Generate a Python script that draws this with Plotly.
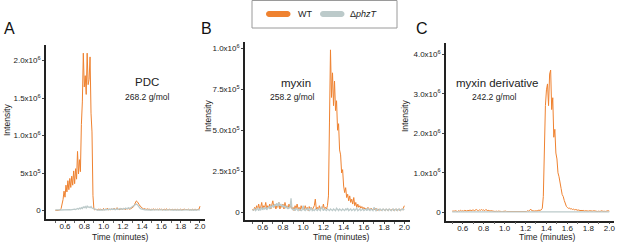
import plotly.graph_objects as go

# ---------------- data ----------------
time_min = [
    0.50, 0.51, 0.52, 0.53, 0.54, 0.55, 0.56, 0.57, 0.58, 0.59,
    0.60, 0.61, 0.62, 0.63, 0.64, 0.65, 0.66, 0.67, 0.68, 0.69,
    0.70, 0.71, 0.72, 0.73, 0.74, 0.75, 0.76, 0.77, 0.78, 0.79,
    0.80, 0.81, 0.82, 0.83, 0.84, 0.85, 0.86, 0.87, 0.88, 0.89,
    0.90, 0.91, 0.92, 0.93, 0.94, 0.95, 0.96, 0.97, 0.98, 0.99,
    1.00, 1.01, 1.02, 1.03, 1.04, 1.05, 1.06, 1.07, 1.08, 1.09,
    1.10, 1.11, 1.12, 1.13, 1.14, 1.15, 1.16, 1.17, 1.18, 1.19,
    1.20, 1.21, 1.22, 1.23, 1.24, 1.25, 1.26, 1.27, 1.28, 1.29,
    1.30, 1.31, 1.32, 1.33, 1.34, 1.35, 1.36, 1.37, 1.38, 1.39,
    1.40, 1.41, 1.42, 1.43, 1.44, 1.45, 1.46, 1.47, 1.48, 1.49,
    1.50, 1.51, 1.52, 1.53, 1.54, 1.55, 1.56, 1.57, 1.58, 1.59,
    1.60, 1.61, 1.62, 1.63, 1.64, 1.65, 1.66, 1.67, 1.68, 1.69,
    1.70, 1.71, 1.72, 1.73, 1.74, 1.75, 1.76, 1.77, 1.78, 1.79,
    1.80, 1.81, 1.82, 1.83, 1.84, 1.85, 1.86, 1.87, 1.88, 1.89,
    1.90, 1.91, 1.92, 1.93, 1.94, 1.95, 1.96, 1.97, 1.98, 1.99,
    2.00,
]

# Panel A, PDC (intensity in units of 1e5)
pdc_wt_e5 = [
    0.05, 0.03, 0.06, 0.04, 0.08, 0.10, 0.30, 0.80, 1.50, 2.60,
    1.80, 3.40, 2.50, 4.00, 2.80, 4.30, 3.10, 4.60, 3.40, 5.30,
    3.60, 5.60, 4.20, 7.90, 4.90, 6.80, 5.20, 11.5, 14.5, 21.0,
    16.5, 18.0, 15.5, 21.0, 16.8, 17.5, 20.5, 13.0, 10.5, 2.00,
    0.20, 0.10, 0.20, 0.15, 0.10, 0.25, 0.10, 0.20, 0.15, 0.10,
    0.30, 0.10, 0.20, 0.15, 0.35, 0.10, 0.20, 0.10, 0.25, 0.15,
    0.20, 0.35, 0.10, 0.20, 0.40, 0.15, 0.20, 0.10, 0.30, 0.20,
    0.15, 0.30, 0.20, 0.15, 0.35, 0.20, 0.30, 0.20, 0.25, 0.30,
    0.35, 0.50, 0.80, 1.10, 1.30, 1.20, 1.05, 0.80, 0.60, 0.45,
    0.30, 0.25, 0.20, 0.30, 0.15, 0.20, 0.25, 0.15, 0.20, 0.10,
    0.20, 0.15, 0.25, 0.10, 0.20, 0.15, 0.20, 0.10, 0.25, 0.15,
    0.20, 0.10, 0.15, 0.20, 0.10, 0.25, 0.15, 0.10, 0.20, 0.15,
    0.10, 0.20, 0.15, 0.10, 0.20, 0.15, 0.10, 0.20, 0.10, 0.15,
    0.20, 0.10, 0.15, 0.10, 0.20, 0.15, 0.10, 0.15, 0.20, 0.10,
    0.15, 0.10, 0.20, 0.10, 0.15, 0.20, 0.10, 0.15, 0.10, 0.20,
    0.60,
]
pdc_ko_e5 = [
    0.10, 0.12, 0.08, 0.10, 0.11, 0.09, 0.10, 0.12, 0.10, 0.08,
    0.10, 0.12, 0.15, 0.10, 0.12, 0.14, 0.10, 0.15, 0.12, 0.18,
    0.20, 0.15, 0.25, 0.30, 0.20, 0.35, 0.25, 0.40, 0.30, 0.50,
    0.40, 0.55, 0.35, 0.60, 0.45, 0.50, 0.40, 0.55, 0.35, 0.30,
    0.15, 0.10, 0.12, 0.10, 0.08, 0.12, 0.10, 0.11, 0.09, 0.10,
    0.12, 0.10, 0.15, 0.10, 0.12, 0.18, 0.10, 0.14, 0.20, 0.12,
    0.15, 0.22, 0.12, 0.18, 0.25, 0.15, 0.20, 0.28, 0.18, 0.25,
    0.20, 0.30, 0.22, 0.35, 0.25, 0.30, 0.38, 0.30, 0.40, 0.45,
    0.50, 0.60, 0.70, 0.85, 0.90, 0.80, 0.60, 0.45, 0.30, 0.25,
    0.20, 0.15, 0.12, 0.10, 0.12, 0.10, 0.08, 0.10, 0.12, 0.10,
    0.09, 0.11, 0.10, 0.08, 0.12, 0.10, 0.09, 0.11, 0.10, 0.08,
    0.10, 0.12, 0.09, 0.10, 0.11, 0.08, 0.10, 0.12, 0.09, 0.10,
    0.11, 0.09, 0.10, 0.12, 0.08, 0.10, 0.11, 0.09, 0.10, 0.12,
    0.10, 0.08, 0.11, 0.10, 0.09, 0.12, 0.10, 0.08, 0.11, 0.10,
    0.09, 0.12, 0.10, 0.08, 0.11, 0.10, 0.09, 0.12, 0.10, 0.11,
    0.10,
]

# Panel B, myxin (intensity in units of 1e5)
myxin_wt_e5 = [
    0.20, 0.10, 0.30, 0.15, 0.40, 0.20, 0.50, 0.20, 0.30, 0.60,
    0.20, 0.40, 0.30, 0.60, 0.20, 0.40, 0.30, 0.50, 0.20, 0.40,
    0.70, 0.30, 0.50, 0.20, 0.40, 0.30, 0.60, 0.20, 0.40, 0.30,
    0.50, 0.20, 0.60, 0.30, 0.40, 0.20, 0.50, 0.30, 0.40, 0.20,
    0.30, 0.10, 0.40, 0.20, 0.50, 0.20, 0.30, 0.10, 0.40, 0.20,
    0.30, 0.15, 0.40, 0.20, 0.30, 0.10, 0.35, 0.20, 0.30, 0.15,
    0.30, 0.40, 0.80, 0.20, 0.30, 0.15, 0.40, 0.20, 0.30, 0.20,
    0.50, 0.20, 0.30, 0.20, 0.40, 1.00, 5.50, 9.90, 7.00, 8.50,
    6.50, 8.00, 6.20, 6.80, 5.00, 5.40, 3.80, 3.50, 2.40, 2.60,
    1.60, 1.20, 1.50, 0.90, 1.10, 0.70, 1.00, 0.60, 0.80, 0.50,
    0.90, 0.40, 0.60, 0.30, 0.50, 0.30, 0.40, 0.25, 0.35, 0.20,
    0.30, 0.20, 0.25, 0.15, 0.30, 0.20, 0.15, 0.25, 0.20, 0.15,
    0.20, 0.15, 0.25, 0.10, 0.20, 0.15, 0.20, 0.10, 0.15, 0.20,
    0.15, 0.10, 0.20, 0.15, 0.10, 0.20, 0.15, 0.10, 0.20, 0.15,
    0.10, 0.20, 0.15, 0.10, 0.20, 0.15, 0.10, 0.20, 0.15, 0.25,
    0.40,
]
myxin_ko_e5 = [
    0.10, 0.15, 0.20, 0.10, 0.15, 0.25, 0.10, 0.20, 0.15, 0.30,
    0.15, 0.25, 0.20, 0.30, 0.15, 0.25, 0.35, 0.20, 0.40, 0.30,
    0.45, 0.30, 0.50, 0.40, 0.55, 0.35, 0.60, 0.40, 0.50, 0.35,
    0.45, 0.30, 0.40, 0.25, 0.35, 0.20, 0.30, 0.25, 0.85, 0.20,
    0.15, 0.20, 0.10, 0.25, 0.15, 0.10, 0.20, 0.15, 0.10, 0.15,
    0.40, 0.15, 0.10, 0.20, 0.15, 0.25, 0.10, 0.15, 0.30, 0.10,
    0.15, 0.10, 0.20, 0.15, 0.10, 0.20, 0.15, 0.10, 0.35, 0.15,
    0.10, 0.20, 0.15, 0.10, 0.20, 0.15, 0.10, 0.20, 0.15, 0.10,
    0.20, 0.15, 0.10, 0.25, 0.15, 0.10, 0.20, 0.15, 0.10, 0.20,
    0.15, 0.10, 0.20, 0.15, 0.25, 0.10, 0.15, 0.20, 0.10, 0.15,
    0.20, 0.10, 0.15, 0.25, 0.10, 0.15, 0.20, 0.10, 0.15, 0.20,
    0.10, 0.15, 0.20, 0.10, 0.25, 0.15, 0.10, 0.20, 0.15, 0.10,
    0.30, 0.15, 0.10, 0.20, 0.15, 0.10, 0.20, 0.15, 0.10, 0.20,
    0.15, 0.10, 0.20, 0.15, 0.10, 0.20, 0.15, 0.10, 0.15, 0.20,
    0.10, 0.15, 0.20, 0.10, 0.15, 0.20, 0.10, 0.15, 0.20, 0.15,
    0.20,
]

# Panel C, myxin derivative (intensity in units of 1e6)
deriv_wt_e6 = [
    0.03, 0.02, 0.03, 0.04, 0.03, 0.02, 0.04, 0.03, 0.05, 0.03,
    0.04, 0.03, 0.05, 0.04, 0.03, 0.05, 0.04, 0.06, 0.04, 0.05,
    0.06, 0.04, 0.05, 0.07, 0.05, 0.04, 0.06, 0.05, 0.07, 0.05,
    0.06, 0.04, 0.07, 0.05, 0.04, 0.05, 0.03, 0.04, 0.03, 0.02,
    0.03, 0.02, 0.03, 0.02, 0.03, 0.02, 0.03, 0.02, 0.02, 0.03,
    0.02, 0.03, 0.02, 0.02, 0.03, 0.02, 0.03, 0.02, 0.02, 0.03,
    0.02, 0.03, 0.02, 0.03, 0.02, 0.03, 0.02, 0.03, 0.02, 0.03,
    0.03, 0.02, 0.04, 0.03, 0.05, 0.08, 0.04, 0.03, 0.04, 0.03,
    0.04, 0.03, 0.05, 0.04, 0.05, 0.06, 0.10, 0.40, 2.00, 2.70,
    3.10, 3.25, 2.70, 3.50, 3.60, 2.60, 2.90, 1.90, 2.10, 1.50,
    1.35, 1.00, 0.90, 0.70, 0.60, 0.45, 0.40, 0.30, 0.20, 0.15,
    0.12, 0.10, 0.11, 0.08, 0.09, 0.07, 0.08, 0.06, 0.07, 0.05,
    0.05, 0.06, 0.04, 0.05, 0.04, 0.05, 0.03, 0.04, 0.03, 0.04,
    0.03, 0.04, 0.03, 0.02, 0.03, 0.04, 0.03, 0.02, 0.03, 0.02,
    0.03, 0.02, 0.03, 0.04, 0.02, 0.03, 0.02, 0.03, 0.02, 0.04,
    0.03,
]
deriv_ko_e6 = [
    0.01, 0.012, 0.01, 0.011, 0.01, 0.012, 0.01, 0.011, 0.01, 0.012,
    0.01, 0.011, 0.01, 0.012, 0.01, 0.011, 0.01, 0.012, 0.01, 0.011,
    0.01, 0.012, 0.01, 0.011, 0.01, 0.012, 0.01, 0.011, 0.01, 0.012,
    0.01, 0.011, 0.01, 0.012, 0.01, 0.011, 0.01, 0.012, 0.01, 0.011,
    0.01, 0.012, 0.01, 0.011, 0.01, 0.012, 0.01, 0.011, 0.01, 0.012,
    0.01, 0.011, 0.01, 0.012, 0.01, 0.011, 0.01, 0.012, 0.01, 0.011,
    0.01, 0.012, 0.01, 0.011, 0.01, 0.012, 0.01, 0.011, 0.01, 0.012,
    0.01, 0.011, 0.01, 0.012, 0.01, 0.011, 0.01, 0.012, 0.01, 0.011,
    0.01, 0.012, 0.01, 0.011, 0.01, 0.012, 0.01, 0.011, 0.01, 0.012,
    0.01, 0.011, 0.01, 0.012, 0.01, 0.011, 0.01, 0.012, 0.01, 0.011,
    0.01, 0.012, 0.01, 0.011, 0.01, 0.012, 0.01, 0.011, 0.01, 0.012,
    0.01, 0.011, 0.01, 0.012, 0.01, 0.011, 0.01, 0.012, 0.01, 0.011,
    0.01, 0.012, 0.01, 0.011, 0.01, 0.012, 0.01, 0.011, 0.01, 0.012,
    0.01, 0.011, 0.01, 0.012, 0.01, 0.011, 0.01, 0.012, 0.01, 0.011,
    0.01, 0.012, 0.01, 0.011, 0.01, 0.012, 0.01, 0.011, 0.01, 0.012,
    0.01,
]

x_tickvals = [0.6, 0.8, 1.0, 1.2, 1.4, 1.6, 1.8, 2.0]
x_ticktext = ["0.6", "0.8", "1.0", "1.2", "1.4", "1.6", "1.8", "2.0"]

a_yvals = [0, 5e5, 1.0e6, 1.5e6, 2.0e6]
a_ytext = ["0", "5x10<sup>5</sup>", "1.0x10<sup>6</sup>", "1.5x10<sup>6</sup>", "2.0x10<sup>6</sup>"]
b_yvals = [0, 2.5e5, 5.0e5, 7.5e5, 1.0e6]
b_ytext = ["0", "2.5x10<sup>5</sup>", "5.0x10<sup>5</sup>", "7.5x10<sup>5</sup>", "1.0x10<sup>6</sup>"]
c_yvals = [0, 1.0e6, 2.0e6, 3.0e6, 4.0e6]
c_ytext = ["0", "1.0x10<sup>6</sup>", "2.0x10<sup>6</sup>", "3.0x10<sup>6</sup>", "4.0x10<sup>6</sup>"]

series_names = ["WT", "\u0394<i>phzT</i>"]

# ---------------- styling ----------------
W, H = 617, 243
ORANGE = "#EF8230"
GREY = "#BCCACA"
FONT = "Liberation Sans, Arial, sans-serif"
TXT = "#222222"


def px(x):
    return x / W


def py(y):
    return 1 - y / H


fig = go.Figure()

panels = [
    ("", pdc_wt_e5, pdc_ko_e5, 1e5),
    ("2", myxin_wt_e5, myxin_ko_e5, 1e5),
    ("3", deriv_wt_e6, deriv_ko_e6, 1e6),
]
for suffix, wt, ko, scale in panels:
    fig.add_trace(go.Scatter(
        x=time_min, y=[v * scale for v in wt], mode="lines",
        line=dict(color=ORANGE, width=1), name=series_names[0],
        xaxis="x" + suffix, yaxis="y" + suffix, showlegend=False,
    ))
    fig.add_trace(go.Scatter(
        x=time_min, y=[v * scale for v in ko], mode="lines",
        line=dict(color=GREY, width=1.3), name=series_names[1],
        xaxis="x" + suffix, yaxis="y" + suffix, showlegend=False,
    ))

# panel geometry (pixels): x0, x1, ytop, ybottom, xrange, yrange
geom = [
    (46, 205, 45, 219, [0.403, 2.052], [-0.111e6, 2.209e6], a_yvals, a_ytext),
    (245, 410, 42, 220, [0.425, 2.056], [-0.047e6, 1.038e6], b_yvals, b_ytext),
    (446, 614, 43, 220.7, [0.4405, 2.045], [-0.213e6, 4.286e6], c_yvals, c_ytext),
]

layout_axes = {}
for i, (x0, x1, yt, yb, xr, yr, yv, yt_text) in enumerate(geom):
    s = "" if i == 0 else str(i + 1)
    layout_axes["xaxis" + s] = dict(
        domain=[px(x0), px(x1)], range=xr, anchor="y" + s,
        showline=True, linecolor="#222", linewidth=1.5,
        showgrid=False, zeroline=False,
        tickvals=x_tickvals, ticktext=x_ticktext,
        ticks="outside", ticklen=2, tickwidth=1, tickcolor="#444",
        ticklabelstandoff=-3,
        minor=dict(tickvals=[0.5, 0.7, 0.9, 1.1, 1.3, 1.5, 1.7, 1.9],
                   ticks="outside", ticklen=2, tickcolor="#666"),
        tickfont=dict(family=FONT, size=8, color=TXT),
        fixedrange=True,
    )
    layout_axes["yaxis" + s] = dict(
        domain=[py(yb), py(yt)], range=yr, anchor="x" + s,
        showline=True, linecolor="#222", linewidth=1.5,
        showgrid=False, zeroline=False,
        tickvals=yv, ticktext=yt_text,
        ticks="outside", ticklen=2, tickwidth=1, tickcolor="#444",
        tickfont=dict(family=FONT, size=8, color=TXT),
        fixedrange=True,
    )

annotations = []


def add_text(text, x, y, size, angle=0, xanchor="center", color=TXT,
             yanchor="middle"):
    annotations.append(dict(
        text=text, x=px(x), y=py(y), xref="paper", yref="paper",
        xanchor=xanchor, yanchor=yanchor, showarrow=False, textangle=angle,
        borderpad=0,
        font=dict(family=FONT, size=size, color=color),
    ))


# panel letters
add_text("A", 9, 28, 16, color="#111")
add_text("B", 206, 28, 16, color="#111")
add_text("C", 422, 28, 16, color="#111")

# compound labels
add_text("PDC", 147, 82, 11.5)
add_text("268.2 g/mol", 147, 97, 8.5)
add_text("myxin", 296, 83, 11.5)
add_text("258.2 g/mol", 292, 97, 8.5)
add_text("myxin derivative", 497, 83, 11.5)
add_text("242.2 g/mol", 494, 97, 8.5)

# axis titles
for cx in (120, 341, 547):
    add_text("Time (minutes)", cx, 242.8, 8.5, yanchor="bottom")
for cx, cy in ((7, 120), (208, 116), (405, 116)):
    add_text("Intensity", cx, cy, 8.5, angle=-90)

# legend
add_text(series_names[0], 297, 14, 9, xanchor="left")
add_text(series_names[1], 349, 14, 9, xanchor="left")

shapes = [
    dict(type="rect", xref="paper", yref="paper",
         x0=px(252), x1=px(397), y0=py(28), y1=py(0.5),
         line=dict(color="#9a9a9a", width=1), fillcolor="rgba(0,0,0,0)"),
]


def pill(xa, xb, yc, h, color):
    r = h / 2
    k = 0.55 * r
    pts = [
        ("M", [(xa + r, yc - r)]),
        ("L", [(xb - r, yc - r)]),
        ("C", [(xb - r + k, yc - r), (xb, yc - k), (xb, yc)]),
        ("C", [(xb, yc + k), (xb - r + k, yc + r), (xb - r, yc + r)]),
        ("L", [(xa + r, yc + r)]),
        ("C", [(xa + r - k, yc + r), (xa, yc + k), (xa, yc)]),
        ("C", [(xa, yc - k), (xa + r - k, yc - r), (xa + r, yc - r)]),
    ]
    path = ""
    for cmd, ps in pts:
        path += cmd + " ".join(f"{px(a):.5f},{py(b):.5f}" for a, b in ps) + " "
    path += "Z"
    return dict(type="path", xref="paper", yref="paper", path=path,
                fillcolor=color, line=dict(width=0))


shapes.append(pill(266, 290.5, 14, 6, ORANGE))
shapes.append(pill(320, 344.5, 14, 6, GREY))

fig.update_layout(
    width=W, height=H,
    margin=dict(l=0, r=0, t=0, b=0),
    paper_bgcolor="white", plot_bgcolor="white",
    showlegend=False,
    annotations=annotations,
    shapes=shapes,
    **layout_axes,
)

fig.write_html(
    "out.html",
    config={"displayModeBar": False},
    post_script="document.body.style.margin='0';document.body.style.padding='0';",
)
